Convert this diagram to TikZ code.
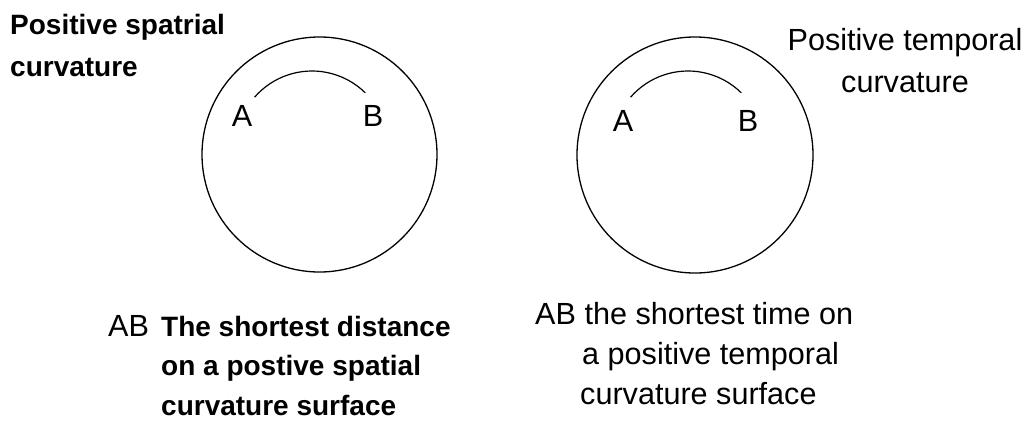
\documentclass[tikz,border=0pt]{standalone}
\usepackage{fontspec}
\setmainfont{Liberation Sans}
\begin{document}
\begin{tikzpicture}[x=1pt,y=-1pt,
  reg/.style={font=\fontsize{30.6}{36}\selectfont, inner sep=0pt},
  bld/.style={font=\fontsize{28}{34}\selectfont\bfseries, inner sep=0pt},
  ring/.style={draw=black, line width=1.3pt},
  geod/.style={draw=black, line width=1.2pt}]
\useasboundingbox (0,0) rectangle (1029,421);
% circles
\node[ring, circle, minimum size=235pt, inner sep=0pt] (cl) at (319.5,154.5) {};
\node[ring, circle, minimum size=236pt, inner sep=0pt] (cr) at (695,155) {};
% arcs
\draw[geod] (312,147) ++(-139:76) arc[start angle=-139, end angle=-45.5, radius=76];
\draw[geod] (688,147) ++(-139:76) arc[start angle=-139, end angle=-45.5, radius=76];
% A B labels
\node[reg] (la) at (242,116) {A};
\node[reg] (lb) at (373,116) {B};
\node[reg] (ra) at (623,121) {A};
\node[reg] (rb) at (748,121) {B};
% top captions
\node[bld, anchor=base west] (tl1) at (10,34) {Positive spatrial};
\node[bld, anchor=base west] (tl2) at (10,76) {curvature};
\node[reg, anchor=base] (tr1) at (905,50) {Positive temporal};
\node[reg, anchor=base] (tr2) at (905,92) {curvature};
% bottom left
\node[reg, anchor=base west] (bl0) at (108,336) {AB};
\node[bld, anchor=base west] (bl1) at (161,336) {The shortest distance};
\node[bld, anchor=base west] (bl2) at (161,375) {on a postive spatial};
\node[bld, anchor=base west] (bl3) at (161,415) {curvature surface};
% bottom right
\node[reg, anchor=base west] (br1) at (535,324) {AB the shortest time on};
\node[reg, anchor=base west] (br2) at (582,364) {a positive temporal};
\node[reg, anchor=base west] (br3) at (580,404) {curvature surface};
\end{tikzpicture}
\end{document}
